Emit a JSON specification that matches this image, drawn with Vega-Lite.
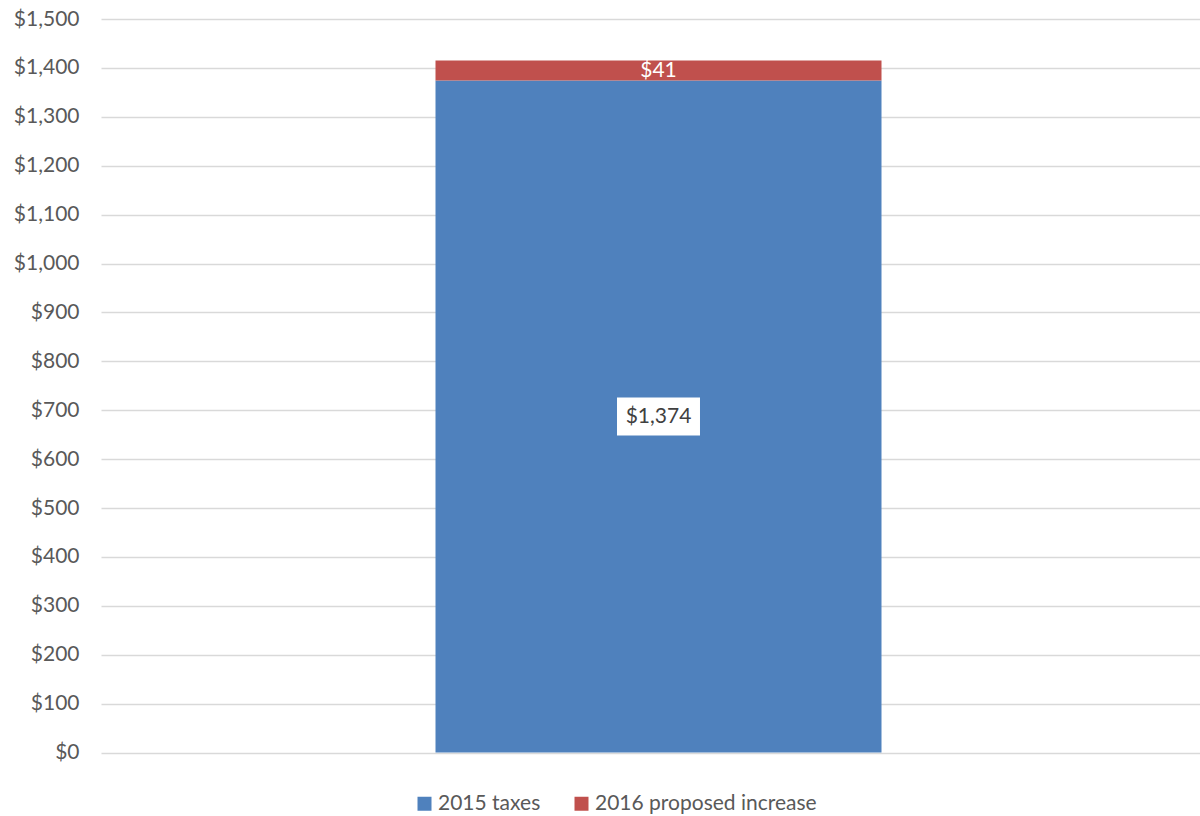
{
  "$schema": "https://vega.github.io/schema/vega-lite/v6.json",
  "width": 1115,
  "height": 733.5,
  "autosize": {"type": "none"},
  "padding": {"left": 101, "top": 19, "right": 0, "bottom": 63.5},
  "background": "white",
  "config": {"view": {"stroke": null}, "font": "Lato"},
  "data": {
    "values": [
      {"cat": "2015", "series": "2015 taxes", "value": 1374, "order": 1},
      {"cat": "2015", "series": "2016 proposed increase", "value": 41, "order": 2}
    ]
  },
  "transform": [
    {"stack": "value", "groupby": ["cat"], "sort": [{"field": "order"}], "as": ["v0", "v1"]},
    {"calculate": "(datum.v0 + datum.v1) / 2", "as": "mid"}
  ],
  "layer": [
    {
      "mark": {"type": "bar"},
      "encoding": {
        "x": {"field": "cat", "type": "nominal", "axis": null, "scale": {"paddingInner": 0, "paddingOuter": 0.75}},
        "y": {
          "field": "v0", "type": "quantitative",
          "scale": {"domain": [0, 1500], "nice": false},
          "axis": {
            "title": null, "values": [0,100,200,300,400,500,600,700,800,900,1000,1100,1200,1300,1400,1500],
            "format": "$,.0f", "grid": true, "gridColor": "#d9d9d9", "gridWidth": 1.5,
            "domain": false, "ticks": false, "labelPadding": 22, "labelFontSize": 21,
            "labelColor": "#595959", "labelFont": "Lato"
          }
        },
        "y2": {"field": "v1"},
        "color": {
          "field": "series", "type": "nominal",
          "scale": {"domain": ["2015 taxes", "2016 proposed increase"], "range": ["#4F81BD", "#C0504D"]},
          "legend": {
            "orient": "none", "legendX": 313, "legendY": 774, "direction": "horizontal",
            "title": null, "symbolType": "square", "symbolSize": 196, "symbolStrokeWidth": 0,
            "labelFontSize": 21, "labelColor": "#595959", "labelFont": "Lato", "labelLimit": 0,
            "columnPadding": 30, "labelOffset": 3
          }
        }
      }
    },
    {
      "transform": [{"filter": "datum.order == 1"}],
      "mark": {"type": "point", "shape": "M-2.184,-1L2.184,-1L2.184,1L-2.184,1Z", "size": 1444, "filled": true, "color": "white", "opacity": 1, "strokeWidth": 0},
      "encoding": {
        "x": {"field": "cat", "type": "nominal"},
        "y": {"field": "mid", "type": "quantitative"}
      }
    },
    {
      "mark": {"type": "text", "fontSize": 21, "font": "Lato", "baseline": "middle", "align": "center"},
      "encoding": {
        "x": {"field": "cat", "type": "nominal"},
        "y": {"field": "mid", "type": "quantitative"},
        "text": {"field": "value", "type": "quantitative", "format": "$,.0f"},
        "color": {"condition": {"test": "datum.order == 1", "value": "#404040"}, "value": "white"}
      }
    }
  ]
}
